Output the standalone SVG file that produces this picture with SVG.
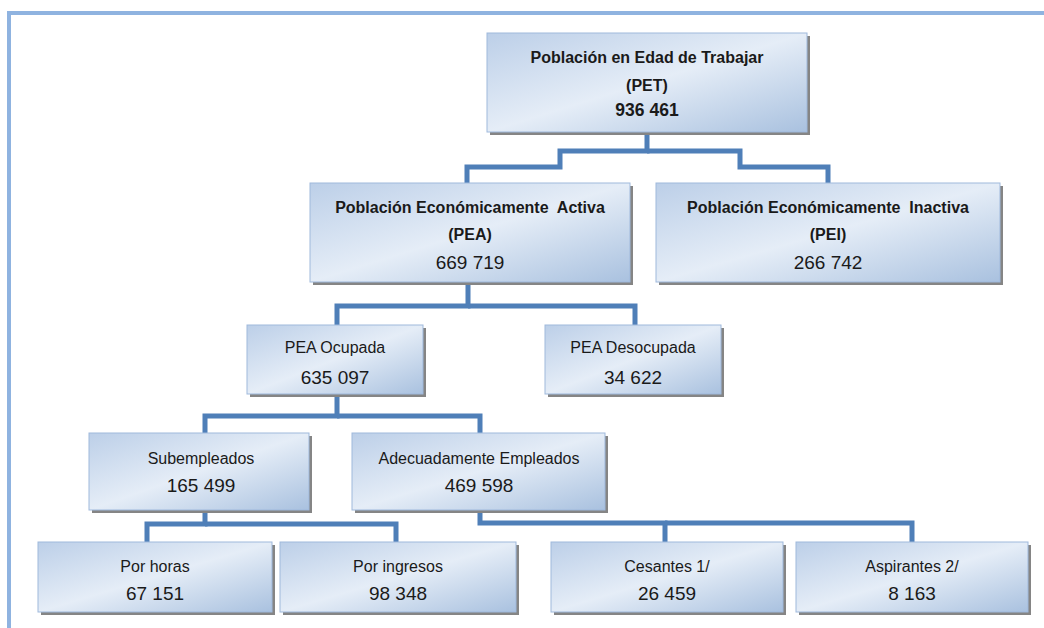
<svg xmlns="http://www.w3.org/2000/svg" width="1044" height="628" viewBox="0 0 1044 628">
<style>
.box{fill:url(#g);stroke:#9fb9dc;stroke-width:1}
.sh{fill:#858585}
.t{font-family:"Liberation Sans",Arial,sans-serif;fill:#1a1a1a;text-anchor:middle;dominant-baseline:central}
.b{font-weight:bold;font-size:16px}
.r{font-size:16px}
.n{font-size:19px}
.nb{font-size:17.5px;font-weight:bold}
.c{fill:none;stroke:#4f7fb8;stroke-width:5;stroke-linejoin:miter}
</style>
<defs>
<linearGradient id="g" x1="0" y1="0" x2="1" y2="1">
<stop offset="0" stop-color="#bccfe8"/>
<stop offset="0.5" stop-color="#e5edf7"/>
<stop offset="1" stop-color="#a9c1df"/>
</linearGradient>
</defs>
<rect width="1044" height="628" fill="#ffffff"/>
<g id="frame" fill="none" stroke="#8fb3e0" stroke-width="4">
<path d="M9,628 V13 H1044"/>
</g>
<g id="connectors" class="c">
<path class="c" d="M647,132 V151 H560 V167 H467 V183"/>
<path class="c" d="M647,151 H740 V167 H828 V183"/>
<path class="c" d="M468,282 V306 H337 V325"/>
<path class="c" d="M468,306 H635 V325"/>
<path class="c" d="M337,394 V416 H205 V433"/>
<path class="c" d="M337,416 H480 V433"/>
<path class="c" d="M205,510 V524 H147 V542"/>
<path class="c" d="M205,524 H396 V542"/>
<path class="c" d="M480,510 V523 H665 V542"/>
<path class="c" d="M665,523 H912 V542"/>
</g>
<g id="pet">
<rect class="sh" x="490" y="36" width="320" height="99"/>
<rect class="box" x="487" y="33" width="320" height="99"/>
<text class="t b" x="647" y="57">Población en Edad de Trabajar</text>
<text class="t b" x="647" y="85">(PET)</text>
<text class="t nb" x="647" y="110">936 461</text>
</g>
<g id="pea">
<rect class="sh" x="313" y="186" width="320" height="99"/>
<rect class="box" x="310" y="183" width="320" height="99"/>
<text class="t b" x="470" y="207" xml:space="preserve">Población Económicamente  Activa</text>
<text class="t b" x="470" y="234">(PEA)</text>
<text class="t n" x="470" y="262">669 719</text>
</g>
<g id="pei">
<rect class="sh" x="659" y="186" width="344" height="99"/>
<rect class="box" x="656" y="183" width="344" height="99"/>
<text class="t b" x="828" y="207" xml:space="preserve">Población Económicamente  Inactiva</text>
<text class="t b" x="828" y="234">(PEI)</text>
<text class="t n" x="828" y="262">266 742</text>
</g>
<g id="pea-ocupada">
<rect class="sh" x="250" y="328" width="176" height="69"/>
<rect class="box" x="247" y="325" width="176" height="69"/>
<text class="t r" x="335" y="347">PEA Ocupada</text>
<text class="t n" x="335" y="377">635 097</text>
</g>
<g id="pea-desocupada">
<rect class="sh" x="548" y="328" width="176" height="69"/>
<rect class="box" x="545" y="325" width="176" height="69"/>
<text class="t r" x="633" y="347">PEA Desocupada</text>
<text class="t n" x="633" y="377">34 622</text>
</g>
<g id="subempleados">
<rect class="sh" x="92" y="436" width="220" height="77"/>
<rect class="box" x="89" y="433" width="220" height="77"/>
<text class="t r" x="201" y="458">Subempleados</text>
<text class="t n" x="201" y="485">165 499</text>
</g>
<g id="adecuadamente">
<rect class="sh" x="355" y="436" width="253" height="77"/>
<rect class="box" x="352" y="433" width="253" height="77"/>
<text class="t r" x="479" y="458">Adecuadamente Empleados</text>
<text class="t n" x="479" y="485">469 598</text>
</g>
<g id="por-horas">
<rect class="sh" x="41" y="545" width="234" height="70"/>
<rect class="box" x="38" y="542" width="234" height="70"/>
<text class="t r" x="155" y="566">Por horas</text>
<text class="t n" x="155" y="593">67 151</text>
</g>
<g id="por-ingresos">
<rect class="sh" x="283" y="545" width="236" height="70"/>
<rect class="box" x="280" y="542" width="236" height="70"/>
<text class="t r" x="398" y="566">Por ingresos</text>
<text class="t n" x="398" y="593">98 348</text>
</g>
<g id="cesantes">
<rect class="sh" x="554" y="545" width="232" height="70"/>
<rect class="box" x="551" y="542" width="232" height="70"/>
<text class="t r" x="667" y="566">Cesantes 1/</text>
<text class="t n" x="667" y="593">26 459</text>
</g>
<g id="aspirantes">
<rect class="sh" x="799" y="545" width="232" height="70"/>
<rect class="box" x="796" y="542" width="232" height="70"/>
<text class="t r" x="912" y="566">Aspirantes 2/</text>
<text class="t n" x="912" y="593">8 163</text>
</g>
</svg>
